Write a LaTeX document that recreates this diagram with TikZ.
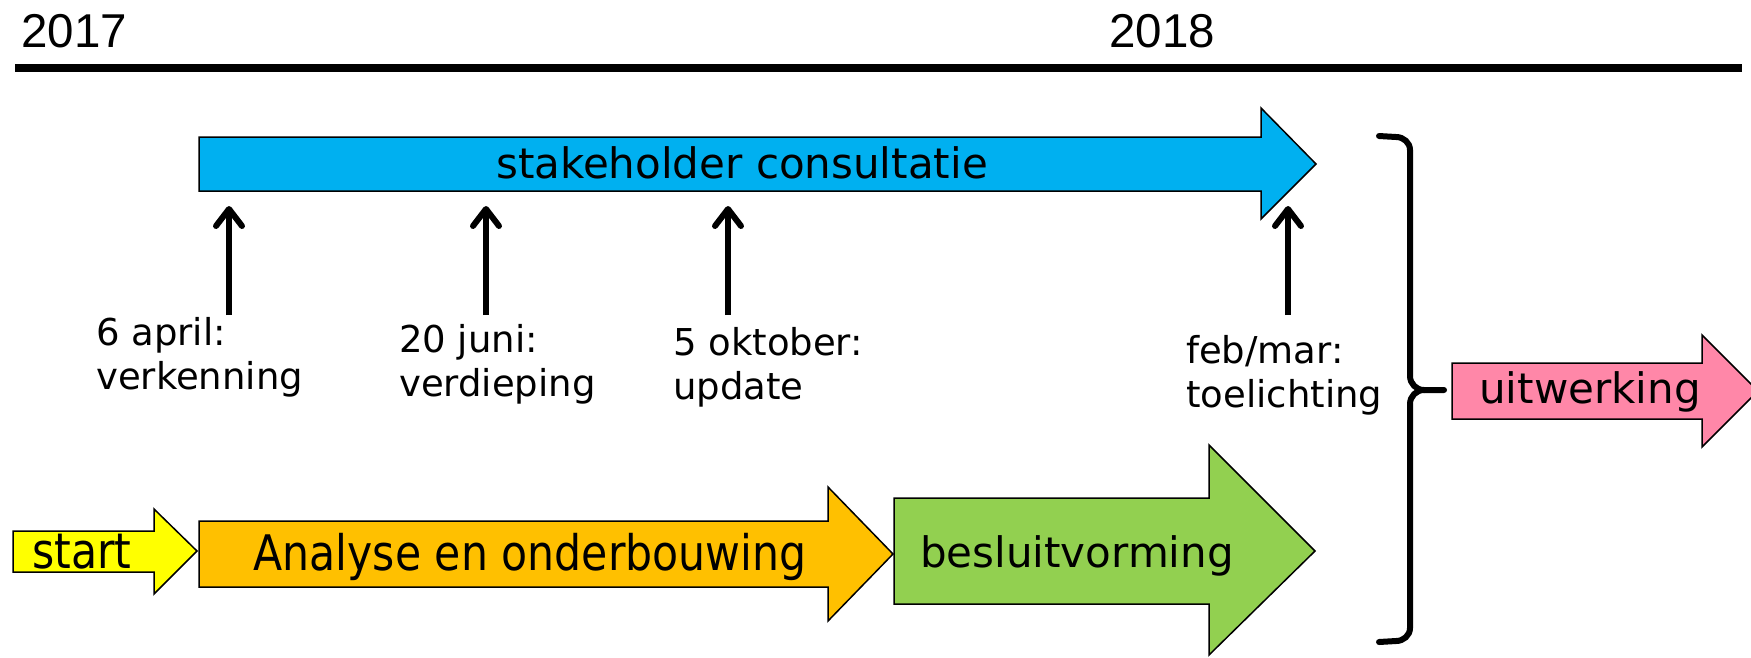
\documentclass[tikz,border=0pt]{standalone}
\usepackage{fontspec}
\usepackage{graphicx}
\setmainfont{DejaVu Sans}
\newfontfamily\yearfont{Liberation Sans}
\usetikzlibrary{arrows.meta}
\definecolor{cblue}{HTML}{00B0F0}
\definecolor{cyellow}{HTML}{FFFF00}
\definecolor{corange}{HTML}{FFC000}
\definecolor{cgreen}{HTML}{92D050}
\definecolor{cpink}{HTML}{FF87A8}
\tikzset{
  blockarrow/.style={draw=black, line width=1.5pt, line join=miter},
  uparrow/.style={line width=6pt, -{Straight Barb[length=17pt,width=26pt,round]}},
  lbl/.style={font=\fontsize{37}{44}\selectfont, align=left, inner sep=0pt, anchor=north west},
  bigtxt/.style={font=\fontsize{42}{50}\selectfont, inner sep=0pt, anchor=base},
  condtxt/.style={inner sep=0pt, anchor=base},
  yeartxt/.style={font=\yearfont\fontsize{47.5}{56}\selectfont, inner sep=0pt, anchor=base west},
  brace/.style={line width=6pt, line cap=round, line join=round}
}
\newcommand{\condensed}[1]{\scalebox{0.87}[1]{\fontsize{49}{58}\selectfont #1}}
\begin{document}
\begin{tikzpicture}[x=1pt,y=-1pt]
\useasboundingbox (0,0) rectangle (1751,657);
% timeline
\coordinate (tl0) at (15,68);
\coordinate (tl1) at (1742,68);
\draw[line width=8pt] (tl0) -- (tl1);
\node[yeartxt] (y2017) at (21,47) {2017};
\node[yeartxt] (y2018) at (1109,47) {2018};
% stakeholder arrow
\path[blockarrow, fill=cblue] (199,137) -- (1261,137) -- (1261,108) -- (1316,164) -- (1261,219) -- (1261,191) -- (199,191) -- cycle;
\node[bigtxt] (stake) at (742,178) {stakeholder consultatie};
% milestone labels
\node[lbl] (l1) at (96,317) {6 april:\\verkenning};
\node[lbl] (l2) at (399,324) {20 juni:\\verdieping};
\node[lbl] (l3) at (673,327) {5 oktober:\\update};
\node[lbl] (l4) at (1186,335) {feb/mar:\\toelichting};
\coordinate (a1s) at (229,315); \coordinate (a1e) at (229,206);
\coordinate (a2s) at (486,315); \coordinate (a2e) at (486,206);
\coordinate (a3s) at (728,315); \coordinate (a3e) at (728,206);
\coordinate (a4s) at (1288,315); \coordinate (a4e) at (1288,206);
\draw[uparrow] (a1s) -- (a1e);
\draw[uparrow] (a2s) -- (a2e);
\draw[uparrow] (a3s) -- (a3e);
\draw[uparrow] (a4s) -- (a4e);
% bottom row
\path[blockarrow, fill=cyellow] (13,531) -- (154,531) -- (154,509) -- (197,551) -- (154,594) -- (154,572) -- (13,572) -- cycle;
\node[condtxt] (start) at (82,568) {\condensed{start}};
\path[blockarrow, fill=corange] (199,521) -- (828,521) -- (828,487) -- (893,554) -- (828,621) -- (828,587) -- (199,587) -- cycle;
\node[condtxt] (analyse) at (530,570) {\condensed{Analyse en onderbouwing}};
\path[blockarrow, fill=cgreen] (894,498) -- (1209,498) -- (1209,445) -- (1315,551) -- (1209,655) -- (1209,604) -- (894,604) -- cycle;
\node[bigtxt] (besluit) at (1077,567) {besluitvorming};
% brace
\draw[brace] (1379,136) -- (1396,137) to[out=0,in=90] (1410,150) -- (1410,376) to[out=-90,in=180] (1424,390) -- (1444,390);
\draw[brace] (1424,390) to[out=180,in=90] (1410,404) -- (1410,628) to[out=-90,in=0] (1396,641) -- (1379,642);
% uitwerking
\path[blockarrow, fill=cpink] (1452,363) -- (1702,363) -- (1702,335) -- (1758,391) -- (1702,447) -- (1702,419) -- (1452,419) -- cycle;
\node[bigtxt] (uitw) at (1590,403) {uitwerking};
\end{tikzpicture}
\end{document}
